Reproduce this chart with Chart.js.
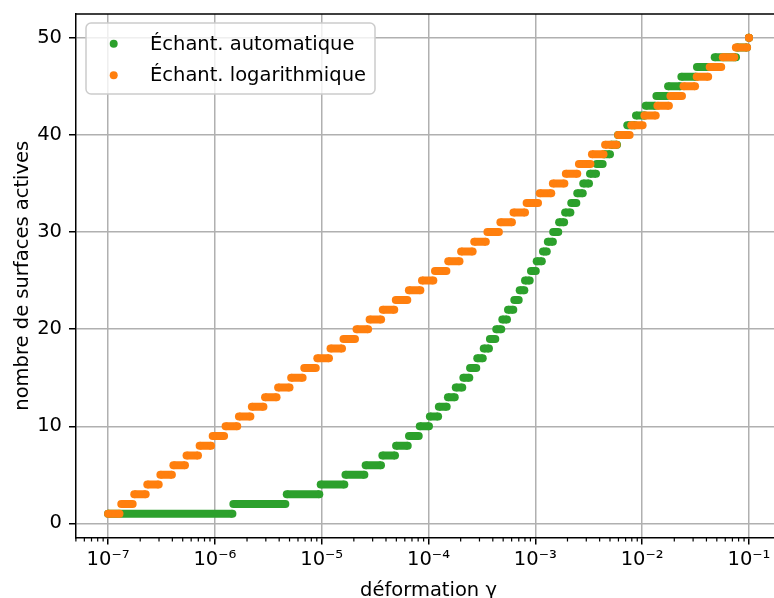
<!DOCTYPE html>
<html>
<head>
<meta charset="utf-8">
<script src="https://cdn.jsdelivr.net/npm/chart.js@4.4.1/dist/chart.umd.min.js"></script>
<style>
  html, body { margin: 0; padding: 0; overflow: hidden; background: #fff; }
  #wrap { position: absolute; left: 0; top: 0; width: 790px; height: 610px; }
</style>
</head>
<body>
<div id="wrap"><canvas id="chart"></canvas></div>
<script>
// nombre de surfaces actives (niveaux)
const levels = [1, 2, 3, 4, 5, 6, 7, 8, 9, 10, 11, 12, 13, 14, 15, 16, 17, 18, 19, 20,
  21, 22, 23, 24, 25, 26, 27, 28, 29, 30, 31, 32, 33, 34, 35, 36, 37, 38, 39, 40,
  41, 42, 43, 44, 45, 46, 47, 48, 49, 50]

// échantillonnage automatique : début / fin de chaque palier (déformation)
const autoStart = [1.00e-7, 1.49e-6, 4.71e-6, 9.79e-6, 1.67e-5, 2.58e-5, 3.70e-5, 4.97e-5, 6.57e-5, 8.28e-5,
  1.03e-4, 1.25e-4, 1.52e-4, 1.80e-4, 2.12e-4, 2.45e-4, 2.86e-4, 3.29e-4, 3.76e-4, 4.31e-4,
  4.91e-4, 5.55e-4, 6.36e-4, 7.14e-4, 8.01e-4, 9.11e-4, 1.03e-3, 1.18e-3, 1.31e-3, 1.47e-3,
  1.67e-3, 1.90e-3, 2.17e-3, 2.47e-3, 2.81e-3, 3.25e-3, 3.75e-3, 4.39e-3, 5.11e-3, 5.94e-3,
  7.26e-3, 8.76e-3, 1.08e-2, 1.36e-2, 1.75e-2, 2.33e-2, 3.26e-2, 4.78e-2, 7.72e-2, 1.00e-1]
const autoEnd = [1.46e-6, 4.57e-6, 9.50e-6, 1.63e-5, 2.51e-5, 3.59e-5, 4.86e-5, 6.39e-5, 8.10e-5, 1.01e-4,
  1.23e-4, 1.48e-4, 1.76e-4, 2.07e-4, 2.41e-4, 2.80e-4, 3.22e-4, 3.68e-4, 4.22e-4, 4.80e-4,
  5.43e-4, 6.22e-4, 6.99e-4, 7.89e-4, 8.86e-4, 1.01e-3, 1.15e-3, 1.28e-3, 1.46e-3, 1.64e-3,
  1.86e-3, 2.13e-3, 2.42e-3, 2.78e-3, 3.18e-3, 3.70e-3, 4.27e-3, 5.00e-3, 5.82e-3, 7.06e-3,
  8.57e-3, 1.06e-2, 1.33e-2, 1.71e-2, 2.28e-2, 3.19e-2, 4.71e-2, 7.56e-2, 9.58e-2, 1.00e-1]

// échantillonnage logarithmique : début / fin de chaque palier
const logStart = [1.00e-7, 1.33e-7, 1.76e-7, 2.33e-7, 3.09e-7, 4.09e-7, 5.43e-7, 7.20e-7, 9.54e-7, 1.26e-6,
  1.68e-6, 2.22e-6, 2.95e-6, 3.91e-6, 5.18e-6, 6.87e-6, 9.10e-6, 1.21e-5, 1.60e-5, 2.12e-5,
  2.81e-5, 3.73e-5, 4.94e-5, 6.55e-5, 8.69e-5, 1.15e-4, 1.53e-4, 2.02e-4, 2.68e-4, 3.56e-4,
  4.71e-4, 6.25e-4, 8.29e-4, 1.10e-3, 1.46e-3, 1.93e-3, 2.56e-3, 3.39e-3, 4.50e-3, 5.96e-3,
  7.91e-3, 1.05e-2, 1.39e-2, 1.84e-2, 2.44e-2, 3.24e-2, 4.29e-2, 5.69e-2, 7.54e-2, 1.00e-1]
const logEnd = [1.28e-7, 1.70e-7, 2.25e-7, 2.98e-7, 3.96e-7, 5.25e-7, 6.95e-7, 9.22e-7, 1.22e-6, 1.62e-6,
  2.15e-6, 2.85e-6, 3.78e-6, 5.00e-6, 6.63e-6, 8.80e-6, 1.17e-5, 1.55e-5, 2.05e-5, 2.72e-5,
  3.60e-5, 4.78e-5, 6.33e-5, 8.39e-5, 1.11e-4, 1.47e-4, 1.95e-4, 2.59e-4, 3.44e-4, 4.56e-4,
  6.04e-4, 8.01e-4, 1.06e-3, 1.41e-3, 1.87e-3, 2.47e-3, 3.28e-3, 4.35e-3, 5.76e-3, 7.64e-3,
  1.01e-2, 1.34e-2, 1.78e-2, 2.36e-2, 3.13e-2, 4.15e-2, 5.50e-2, 7.29e-2, 9.60e-2, 1.00e-1]

const xTicks = [1e-7, 1e-6, 1e-5, 1e-4, 1e-3, 1e-2, 1e-1]
const xTickLabels = ['10⁻⁷', '10⁻⁶', '10⁻⁵', '10⁻⁴', '10⁻³', '10⁻²', '10⁻¹']
const yTicks = [0, 10, 20, 30, 40, 50]

const GREEN = '#2ca02c'
const ORANGE = '#ff7f0e'
const FONT = 'DejaVu Sans'

const xMinorTicks = []
for (let e = -8; e <= -1; e++) {
  for (let m = 2; m <= 9; m++) xMinorTicks.push(m * Math.pow(10, e))
}

function segments (starts, ends) {
  const pts = []
  starts.forEach((s, i) => {
    pts.push({ x: s, y: levels[i] }, { x: ends[i], y: levels[i] }, { x: ends[i], y: null })
  })
  return pts
}

function stepSet (label, color, starts, ends, order) {
  return {
    label,
    data: segments(starts, ends),
    order,
    borderColor: color,
    backgroundColor: color,
    borderWidth: 8,
    borderCapStyle: 'butt',
    pointRadius: 4,
    pointBorderWidth: 0,
    pointBackgroundColor: color,
    pointHoverRadius: 4,
    spanGaps: false,
    tension: 0
  }
}

const extras = {
  id: 'extras',
  beforeDatasetsDraw (chart) {
    const { ctx, chartArea: a, scales: { x } } = chart
    ctx.save()
    ctx.strokeStyle = '#000'
    ctx.lineWidth = 1.2
    for (const v of xMinorTicks) {
      const px = x.getPixelForValue(v)
      if (px < a.left - 0.5 || px > a.right) continue
      ctx.beginPath()
      ctx.moveTo(px, a.bottom)
      ctx.lineTo(px, a.bottom + 4)
      ctx.stroke()
    }
    ctx.restore()
  },
  afterDatasetsDraw (chart) {
    const { ctx, chartArea: a } = chart
    ctx.save()
    ctx.strokeStyle = '#000'
    ctx.lineWidth = 1.5
    ctx.beginPath()
    ctx.moveTo(a.left, a.top)
    ctx.lineTo(a.right, a.top)
    ctx.lineTo(a.right, a.bottom)
    ctx.stroke()
    ctx.restore()
  },
  afterDraw (chart) {
    const ctx = chart.ctx
    ctx.save()
    ctx.beginPath()
    ctx.roundRect(86, 23, 289, 71, 5)
    ctx.fillStyle = 'rgba(255,255,255,0.8)'
    ctx.fill()
    ctx.strokeStyle = '#cccccc'
    ctx.lineWidth = 1.5
    ctx.stroke()
    ctx.font = '19.5px "' + FONT + '"'
    ctx.textBaseline = 'alphabetic'
    chart.data.datasets.forEach((ds, i) => {
      const cy = 43.7 + i * 31.6
      ctx.fillStyle = ds.borderColor
      ctx.beginPath()
      ctx.arc(113.7, cy, 4, 0, Math.PI * 2)
      ctx.fill()
      ctx.fillStyle = '#000'
      ctx.fillText(ds.label, 150, cy + 6)
    })
    ctx.restore()
  }
}

Chart.defaults.font.family = FONT
Chart.defaults.font.size = 19.5
Chart.defaults.color = '#000'

new Chart(document.getElementById('chart'), {
  type: 'line',
  data: {
    datasets: [
      stepSet('Échant. automatique', GREEN, autoStart, autoEnd, 1),
      stepSet('Échant. logarithmique', ORANGE, logStart, logEnd, 0)
    ]
  },
  options: {
    responsive: true,
    maintainAspectRatio: false,
    animation: false,
    events: [],
    layout: { padding: { left: 0, top: 14, right: 9, bottom: 0 } },
    plugins: { legend: { display: false }, tooltip: { enabled: false } },
    scales: {
      x: {
        type: 'logarithmic',
        min: 5.012e-8,
        max: 0.1995,
        afterBuildTicks: (scale) => { scale.ticks = xTicks.map(v => ({ value: v })) },
        afterFit: (scale) => {
          scale.height = 72.5
          scale.paddingLeft = 0
          scale.paddingRight = 0
        },
        ticks: {
          autoSkip: false,
          maxRotation: 0,
          padding: 4,
          color: '#000',
          font: { size: 19.5 },
          callback: (v, i) => xTickLabels[i]
        },
        grid: { color: '#b0b0b0', lineWidth: 1.5, tickColor: '#000', tickWidth: 1.5, tickLength: 7 },
        border: { display: true, color: '#000', width: 1.5 },
        title: { display: true, text: 'déformation γ', color: '#000', font: { size: 19.5 }, padding: { top: 0, bottom: 7.5 } }
      },
      y: {
        type: 'linear',
        min: -1.45,
        max: 52.45,
        afterBuildTicks: (scale) => { scale.ticks = yTicks.map(v => ({ value: v })) },
        afterFit: (scale) => {
          scale.width = 76
          scale.paddingTop = 0
          scale.paddingBottom = 0
        },
        ticks: { padding: 7, color: '#000', font: { size: 19.5 }, callback: (v) => String(v) },
        grid: { color: '#b0b0b0', lineWidth: 1.5, tickColor: '#000', tickWidth: 1.5, tickLength: 7 },
        border: { display: true, color: '#000', width: 1.5 },
        title: { display: true, text: 'nombre de surfaces actives', color: '#000', font: { size: 19.5 }, padding: { top: 11, bottom: 0 } }
      }
    }
  },
  plugins: [extras]
})
</script>
</body>
</html>
